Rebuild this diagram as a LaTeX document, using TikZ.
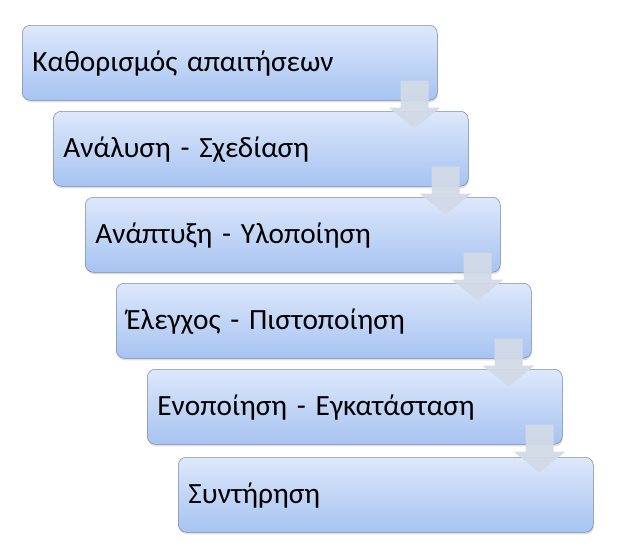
\documentclass[tikz,border=0pt]{standalone}
\usepackage{fontspec}
\setmainfont{Carlito}
\usetikzlibrary{calc,shadows}
\definecolor{stagetop}{HTML}{DDE8FB}
\definecolor{stagebot}{HTML}{A7C3F1}
\definecolor{stageline}{HTML}{7D8BA6}
\definecolor{flowfill}{HTML}{D2DAE7}
\begin{document}
\begin{tikzpicture}[x=0.75pt, y=-0.75pt,
    stage/.style={draw=stageline, rounded corners=6pt, top color=stagetop, bottom color=stagebot,
        minimum width=311.25pt, minimum height=56.25pt, text width=296pt, inner xsep=7.5pt,
        text height=17pt, text depth=4pt,
        align=left, anchor=north west, font=\fontsize{22}{25}\selectfont,
        drop shadow={opacity=0.25, shadow xshift=0.6pt, shadow yshift=-1.5pt}},
    flow/.style={fill=flowfill, opacity=0.95}]
    \useasboundingbox (0,0) rectangle (618,553);

    % Stages
    \node[stage] (s1) at (22,25) {Καθορισμός απαιτήσεων};
    \node[stage] (s2) at (53,111) {Ανάλυση - Σχεδίαση};
    \node[stage] (s3) at (85,197) {Ανάπτυξη - Υλοποίηση};
    \node[stage] (s4) at (116,283) {Έλεγχος - Πιστοποίηση};
    \node[stage] (s5) at (147,369) {Ενοποίηση - Εγκατάσταση};
    \node[stage] (s6) at (178,457) {Συντήρηση};

    % Down arrows between stages
    \foreach \a in {s1,s2,s3,s4,s5}
        \fill[flow] ($(\a.south east)+(-37,-20)$) -- ($(\a.south east)+(-9,-20)$)
            -- ($(\a.south east)+(-9,7)$) -- ($(\a.south east)+(3,7)$)
            -- ($(\a.south east)+(-23,28)$) -- ($(\a.south east)+(-49,7)$)
            -- ($(\a.south east)+(-37,7)$) -- cycle;
\end{tikzpicture}
\end{document}
